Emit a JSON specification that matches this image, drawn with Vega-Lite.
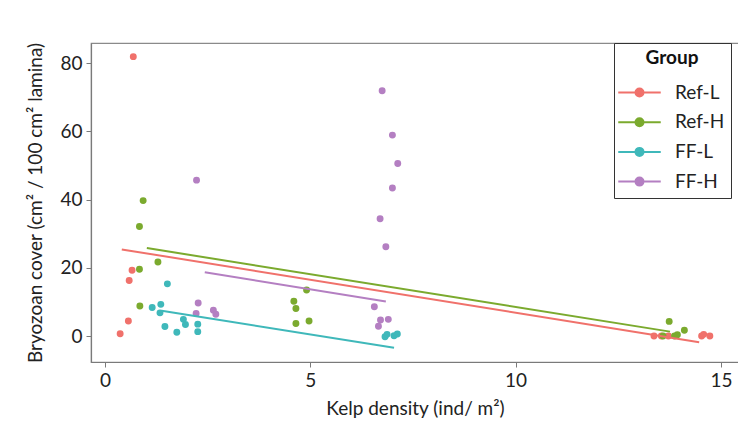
{
  "$schema": "https://vega.github.io/schema/vega-lite/v6.json",
  "width": 648,
  "height": 319,
  "autosize": {"type": "none"},
  "padding": {"left": 91, "top": 43, "right": 0, "bottom": 63},
  "background": "white",
  "config": {
    "font": "Lato",
    "view": {"stroke": "#8a8a8a", "strokeWidth": 1.2},
    "axis": {
      "grid": false,
      "domainColor": "#7a7a7a",
      "domainWidth": 1.2,
      "tickColor": "#7a7a7a",
      "tickSize": 5,
      "labelFont": "Lato",
      "labelFontSize": 19,
      "labelColor": "#222222",
      "titleFont": "Lato",
      "titleFontSize": 19,
      "titleFontWeight": "normal",
      "titleColor": "#222222"
    }
  },
  "datasets": {
    "pts": [
      {"group": "Ref-L", "x": 0.69, "y": 81.9},
      {"group": "Ref-L", "x": 0.66, "y": 19.3},
      {"group": "Ref-L", "x": 0.59, "y": 16.3},
      {"group": "Ref-L", "x": 0.57, "y": 4.4},
      {"group": "Ref-L", "x": 0.37, "y": 0.7},
      {"group": "Ref-L", "x": 13.37, "y": 0},
      {"group": "Ref-L", "x": 13.55, "y": 0},
      {"group": "Ref-L", "x": 13.72, "y": 0},
      {"group": "Ref-L", "x": 14.53, "y": 0},
      {"group": "Ref-L", "x": 14.58, "y": 0.5},
      {"group": "Ref-L", "x": 14.73, "y": 0},
      {"group": "Ref-H", "x": 0.93, "y": 39.7},
      {"group": "Ref-H", "x": 0.84, "y": 32.1},
      {"group": "Ref-H", "x": 1.29, "y": 21.7},
      {"group": "Ref-H", "x": 0.84, "y": 19.6},
      {"group": "Ref-H", "x": 0.85, "y": 8.8},
      {"group": "Ref-H", "x": 4.91, "y": 13.5},
      {"group": "Ref-H", "x": 4.6, "y": 10.2},
      {"group": "Ref-H", "x": 4.65, "y": 8.1},
      {"group": "Ref-H", "x": 4.65, "y": 3.7},
      {"group": "Ref-H", "x": 4.97, "y": 4.4},
      {"group": "Ref-H", "x": 13.74, "y": 4.3},
      {"group": "Ref-H", "x": 14.11, "y": 1.7},
      {"group": "Ref-H", "x": 13.59, "y": 0},
      {"group": "Ref-H", "x": 13.87, "y": 0},
      {"group": "Ref-H", "x": 13.94, "y": 0.4},
      {"group": "FF-L", "x": 1.52, "y": 15.3},
      {"group": "FF-L", "x": 1.15, "y": 8.4},
      {"group": "FF-L", "x": 1.36, "y": 9.3},
      {"group": "FF-L", "x": 1.34, "y": 6.8},
      {"group": "FF-L", "x": 1.46, "y": 2.8},
      {"group": "FF-L", "x": 1.75, "y": 1.1},
      {"group": "FF-L", "x": 1.91, "y": 4.9},
      {"group": "FF-L", "x": 1.96, "y": 3.4},
      {"group": "FF-L", "x": 2.26, "y": 3.5},
      {"group": "FF-L", "x": 2.26, "y": 1.3},
      {"group": "FF-L", "x": 6.82, "y": -0.2},
      {"group": "FF-L", "x": 6.87, "y": 0.5},
      {"group": "FF-L", "x": 7.04, "y": 0.1},
      {"group": "FF-L", "x": 7.12, "y": 0.6},
      {"group": "FF-H", "x": 2.23, "y": 45.7},
      {"group": "FF-H", "x": 2.27, "y": 9.7},
      {"group": "FF-H", "x": 2.22, "y": 6.6},
      {"group": "FF-H", "x": 2.64, "y": 7.6},
      {"group": "FF-H", "x": 2.7, "y": 6.4},
      {"group": "FF-H", "x": 6.75, "y": 71.9},
      {"group": "FF-H", "x": 7.0, "y": 58.9},
      {"group": "FF-H", "x": 7.13, "y": 50.6},
      {"group": "FF-H", "x": 7.0, "y": 43.4},
      {"group": "FF-H", "x": 6.7, "y": 34.4},
      {"group": "FF-H", "x": 6.84, "y": 26.2},
      {"group": "FF-H", "x": 6.56, "y": 8.6},
      {"group": "FF-H", "x": 6.71, "y": 4.7},
      {"group": "FF-H", "x": 6.9, "y": 4.9},
      {"group": "FF-H", "x": 6.66, "y": 2.9}
    ],
    "fits": [
      {"group": "Ref-L", "x": 0.41, "y": 25.4},
      {"group": "Ref-L", "x": 14.47, "y": -1.8},
      {"group": "Ref-H", "x": 1.02, "y": 25.8},
      {"group": "Ref-H", "x": 13.76, "y": 1.3},
      {"group": "FF-L", "x": 1.38, "y": 7.4},
      {"group": "FF-L", "x": 7.04, "y": -3.4},
      {"group": "FF-H", "x": 2.43, "y": 18.7},
      {"group": "FF-H", "x": 6.84, "y": 10.1}
    ]
  },
  "encoding": {
    "x": {
      "field": "x", "type": "quantitative",
      "scale": {"domain": [-0.34, 15.44], "nice": false, "zero": false},
      "axis": {"values": [0, 5, 10, 15], "title": "Kelp density (ind/ m²)", "labelPadding": 4, "titlePadding": 9}
    },
    "y": {
      "field": "y", "type": "quantitative",
      "scale": {"domain": [-7.6, 85.9], "nice": false, "zero": false},
      "axis": {"values": [0, 20, 40, 60, 80], "title": "Bryozoan cover (cm² / 100 cm² lamina)", "labelPadding": 4, "titlePadding": 14}
    }
  },
  "layer": [
    {
      "data": {"name": "pts"},
      "mark": {"type": "point", "filled": true, "opacity": 1, "size": 48},
      "encoding": {
        "color": {
          "field": "group", "type": "nominal",
          "scale": {"domain": ["Ref-L", "Ref-H", "FF-L", "FF-H"], "range": ["#F0716B", "#7BAA2E", "#3FB8BA", "#B47FC2"]},
          "legend": {
            "title": "Group",
            "orient": "none",
            "legendX": 523,
            "legendY": 0,
            "direction": "vertical",
            "padding": 6,
            "strokeColor": "#333333",
            "fillColor": "white",
            "titleFont": "Lato",
            "titleFontSize": 19,
            "titleFontWeight": "bold",
            "titleColor": "#111111",
            "titleAnchor": "middle",
            "titlePadding": 15,
            "labelFont": "Lato",
            "labelFontSize": 19,
            "labelColor": "#222222",
            "labelOffset": 26,
            "rowPadding": 9.7,
            "symbolOffset": 10,
            "symbolSize": 289,
            "symbolType": "M-2.5,0H2.5M0.47,0A0.47,0.47 0 1,1 -0.47,0A0.47,0.47 0 1,1 0.47,0Z",
            "symbolStrokeWidth": 2,
            "encode": {
              "symbols": {
                "update": {
                  "fill": {"scale": "color", "field": "value"},
                  "stroke": {"scale": "color", "field": "value"},
                  "strokeWidth": {"value": 2},
                  "opacity": {"value": 1}
                }
              }
            }
          }
        }
      }
    },
    {
      "data": {"name": "fits"},
      "mark": {"type": "line", "strokeWidth": 2},
      "encoding": {
        "color": {"field": "group", "type": "nominal", "legend": null},
        "detail": {"field": "group"}
      }
    }
  ]
}
